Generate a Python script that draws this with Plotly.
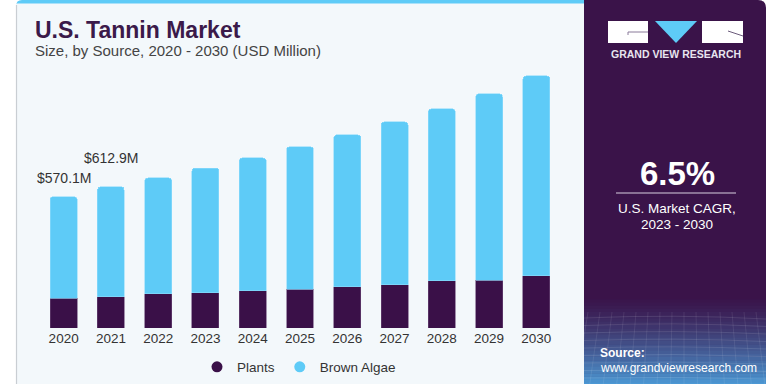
import plotly.graph_objects as go

years = ["2020", "2021", "2022", "2023", "2024", "2025", "2026", "2027", "2028", "2029", "2030"]
plants = [130, 135, 148, 152, 161, 169, 178, 187, 204, 208, 226]
brown_algae = [440.1, 477.9, 503, 542, 577, 617, 660, 707, 747, 808, 868]
label_years = ["2020", "2021"]
label_texts = ["$570.1M", "$612.9M"]
label_shift = [9, 19]

C_PLANT = "#3a1048"
C_ALGAE = "#5ecbf7"
C_PANEL = "#3a1349"
C_BG = "#f3f8fb"
FONT = "Liberation Sans, Arial, sans-serif"

W, H = 777, 384
L, R, T, B = 40, 217, 60, 56
PW = W - L - R
PH = H - T - B


def px(x):
    return (x - L) / PW


def py(y):
    return (H - B - y) / PH


fig = go.Figure()
fig.add_trace(go.Bar(x=years, y=plants, name="Plants", marker=dict(color=C_PLANT, line=dict(width=0.6, color="#6a4a78")),
                     showlegend=False, hoverinfo="x+y"))
fig.add_trace(go.Bar(x=years, y=brown_algae, name="Brown Algae", marker=dict(color=C_ALGAE, line=dict(width=0.6, color="#8fdcfb")),
                     showlegend=False, hoverinfo="x+y"))
fig.add_trace(go.Scatter(x=[None], y=[None], mode="markers", name="Plants",
                         marker=dict(symbol="circle", size=11, color=C_PLANT)))
fig.add_trace(go.Scatter(x=[None], y=[None], mode="markers", name="Brown Algae",
                         marker=dict(symbol="circle", size=11, color=C_ALGAE)))

shapes = []
# cyan top strip with rounded corner
shapes.append(dict(type="path", xref="paper", yref="paper", layer="below",
                   path=f"M {px(16)},{py(14)} L {px(16)},{py(6)} Q {px(16)},{py(0)} {px(22)},{py(0)} "
                        f"L {px(585)},{py(0)} L {px(585)},{py(14)} Z",
                   fillcolor="#5ecbf7", line=dict(width=0)))
# light panel
shapes.append(dict(type="rect", xref="paper", yref="paper", layer="below",
                   x0=px(16), x1=px(585), y0=py(H + 2), y1=py(3.5),
                   fillcolor=C_BG, line=dict(width=0)))
# left border
shapes.append(dict(type="line", xref="paper", yref="paper", layer="below",
                   x0=px(16.5), x1=px(16.5), y0=py(H + 2), y1=py(5),
                   line=dict(width=1.2, color="#c9ced3")))
# purple panel
shapes.append(dict(type="path", xref="paper", yref="paper", layer="below",
                   path=f"M {px(584)},{py(H + 2)} L {px(584)},{py(0)} L {px(758)},{py(0)} "
                        f"Q {px(766)},{py(0)} {px(766)},{py(8)} L {px(766)},{py(H + 2)} Z",
                   fillcolor=C_PANEL, line=dict(width=0)))
# gradient at panel bottom
c0 = (0x3a, 0x13, 0x49)
c1 = (0x4d, 0x9c, 0xd8)
n = 28
y_start, y_end = 296, H + 2
for i in range(n):
    t = (i + 0.5) / n
    t2 = t ** 1.3
    col = tuple(int(c0[k] + (c1[k] - c0[k]) * t2) for k in range(3))
    ya = y_start + (y_end - y_start) * i / n
    yb = y_start + (y_end - y_start) * (i + 1) / n + 0.5
    shapes.append(dict(type="rect", xref="paper", yref="paper", layer="below",
                       x0=px(584), x1=px(766), y0=py(yb), y1=py(ya),
                       fillcolor="rgb(%d,%d,%d)" % col, line=dict(width=0)))
# faint mesh lines in the gradient
for k in range(9):
    yy = 318 + k * 7.5
    shapes.append(dict(type="path", xref="paper", yref="paper", layer="below",
                       path=f"M {px(584)},{py(yy)} Q {px(675)},{py(yy - 4 + k * 0.3)} {px(766)},{py(yy + 1)}",
                       line=dict(width=0.6, color="rgba(255,255,255,0.18)")))
for k in range(16):
    xx = 588 + k * 12
    shapes.append(dict(type="line", xref="paper", yref="paper", layer="below",
                       x0=px(xx), x1=px(xx + (k - 8) * 1.5), y0=py(312), y1=py(H + 2),
                       line=dict(width=0.6, color="rgba(255,255,255,0.15)")))
# logo
shapes.append(dict(type="rect", xref="paper", yref="paper", x0=px(608), x1=px(648), y0=py(43), y1=py(21),
                   fillcolor="white", line=dict(width=0)))
shapes.append(dict(type="path", xref="paper", yref="paper",
                   path=f"M {px(628)},{py(32)} L {px(648)},{py(32)} M {px(628)},{py(32)} L {px(628)},{py(35)}",
                   line=dict(width=1, color="#8a7a9a")))
shapes.append(dict(type="path", xref="paper", yref="paper",
                   path=f"M {px(655)},{py(21)} L {px(697)},{py(21)} L {px(676)},{py(43)} Z",
                   fillcolor="#5ecbf7", line=dict(width=0)))
shapes.append(dict(type="rect", xref="paper", yref="paper", x0=px(702), x1=px(743), y0=py(43), y1=py(21),
                   fillcolor="white", line=dict(width=0)))
shapes.append(dict(type="line", xref="paper", yref="paper", x0=px(728), x1=px(743), y0=py(31), y1=py(36),
                   line=dict(width=1, color="#6a5a7a")))
# divider under CAGR
shapes.append(dict(type="line", xref="paper", yref="paper", x0=px(616), x1=px(736), y0=py(193), y1=py(193),
                   line=dict(width=1.2, color="#d8d0e0")))

ann = []
for yr, txt, sh in zip(label_years, label_texts, label_shift):
    i = years.index(yr)
    ann.append(dict(x=i, y=plants[i] + brown_algae[i], xref="x", yref="y", text=txt, showarrow=False,
                    yanchor="bottom", yshift=sh, font=dict(family=FONT, size=14, color="#333333")))
ann.append(dict(x=px(33), y=py(30), xref="paper", yref="paper", text="<b>U.S. Tannin Market</b>", showarrow=False,
                xanchor="left", yanchor="middle", font=dict(family=FONT, size=23, color="#3b1a4a")))
ann.append(dict(x=px(33), y=py(50), xref="paper", yref="paper", text="Size, by Source, 2020 - 2030 (USD Million)",
                showarrow=False, xanchor="left", yanchor="middle", font=dict(family=FONT, size=15, color="#444444")))
ann.append(dict(x=px(676), y=py(54), xref="paper", yref="paper", text="<b>GRAND VIEW RESEARCH</b>", showarrow=False,
                xanchor="center", yanchor="middle", font=dict(family=FONT, size=10.5, color="#e8e4ee")))
ann.append(dict(x=px(677), y=py(173), xref="paper", yref="paper", text="<b>6.5%</b>", showarrow=False,
                xanchor="center", yanchor="middle", font=dict(family=FONT, size=33, color="white")))
ann.append(dict(x=px(677), y=py(208), xref="paper", yref="paper", text="U.S. Market CAGR,", showarrow=False,
                xanchor="center", yanchor="middle", font=dict(family=FONT, size=13.5, color="white")))
ann.append(dict(x=px(677), y=py(224), xref="paper", yref="paper", text="2023 - 2030", showarrow=False,
                xanchor="center", yanchor="middle", font=dict(family=FONT, size=13.5, color="white")))
ann.append(dict(x=px(598), y=py(353), xref="paper", yref="paper", text="<b>Source:</b>", showarrow=False,
                xanchor="left", yanchor="middle", font=dict(family=FONT, size=12, color="white")))
ann.append(dict(x=px(598), y=py(368), xref="paper", yref="paper", text="www.grandviewresearch.com", showarrow=False,
                xanchor="left", yanchor="middle", font=dict(family=FONT, size=12, color="white")))

fig.update_layout(
    width=W, height=H,
    margin=dict(l=L, r=R, t=T, b=B, pad=0),
    barmode="stack", bargap=0.43, barcornerradius=3,
    paper_bgcolor="white", plot_bgcolor="rgba(0,0,0,0)",
    shapes=shapes, annotations=ann,
    font=dict(family=FONT, color="#333333"),
    xaxis=dict(type="category", categoryorder="array", categoryarray=years,
               range=[-0.5, len(years) - 0.5], automargin=False,
               showgrid=False, zeroline=False, showline=False, ticks="",
               tickfont=dict(family=FONT, size=13.5, color="#333333"), fixedrange=True),
    yaxis=dict(range=[0, 1163], visible=False, fixedrange=True, automargin=False),
    legend=dict(orientation="h", xref="container", yref="container",
                x=299 / W, y=1 - 367 / H, xanchor="center", yanchor="middle",
                font=dict(family=FONT, size=13.5, color="#333333"), bgcolor="rgba(0,0,0,0)",
                itemwidth=30, traceorder="normal"),
    showlegend=True,
)

fig.write_html("out.html", config={"displayModeBar": False},
               post_script="document.body.style.margin='0';document.body.style.overflow='hidden';")
